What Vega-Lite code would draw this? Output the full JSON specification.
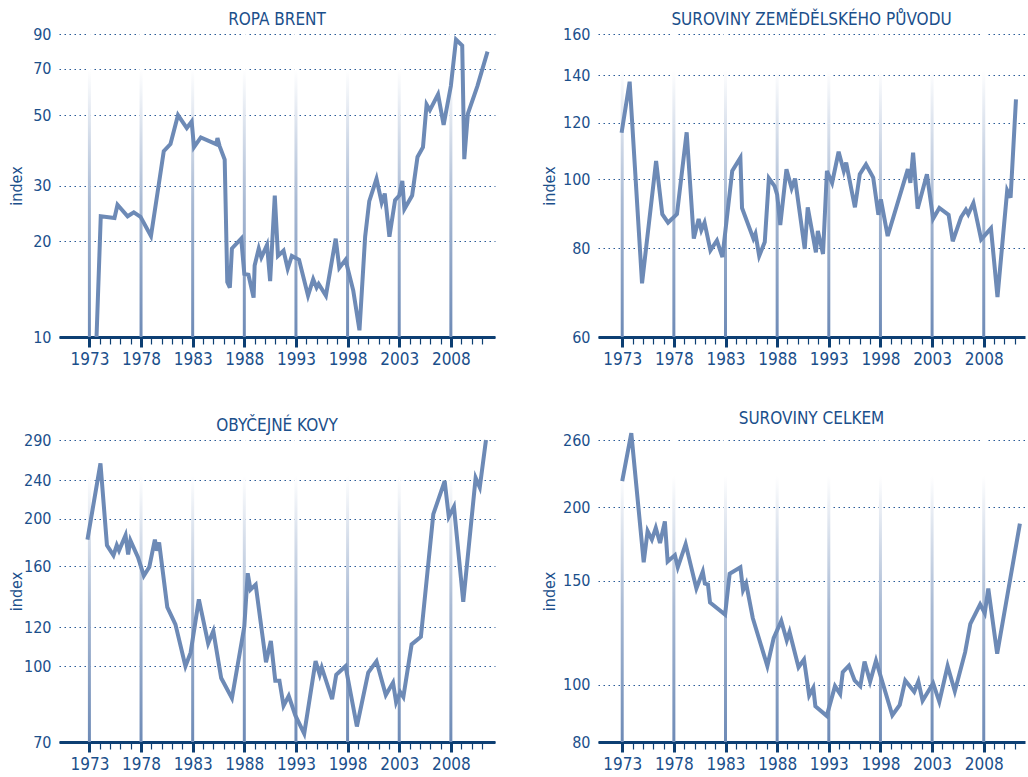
{
  "$schema": "https://vega.github.io/schema/vega-lite/v6.json",
  "autosize": {"type": "pad"},
  "padding": {"left": 8, "top": 11, "right": 0, "bottom": 0},
  "background": "white",
  "bounds": "flush",
  "spacing": {"row": 103, "column": 103},
  "columns": 2,
  "config": {
    "font": "'DejaVu Sans Condensed', Roboto, sans-serif",
    "view": {"stroke": null},
    "title": {"font": "'DejaVu Sans Condensed', Roboto, sans-serif", "fontSize": 17, "fontWeight": "normal", "color": "#1b4f8b", "offset": -3},
    "axis": {
      "labelFont": "'DejaVu Sans Condensed', Roboto, sans-serif",
      "titleFont": "'DejaVu Sans Condensed', Roboto, sans-serif",
      "labelColor": "#1b4f8b",
      "titleColor": "#1b4f8b",
      "labelFontSize": 16,
      "titleFontSize": 16,
      "titleFontWeight": "normal"
    },
    "axisX": {
      "domainColor": "#0d3f73",
      "domainWidth": 3,
      "domainCap": "butt",
      "grid": false,
      "tickColor": "#0d3f73",
      "labelPadding": 4,
      "labelFontSize": 17,
      "labelFlush": false,
      "labelOverlap": false,
      "labelBound": false,
      "format": "d",
      "title": null
    },
    "axisY": {
      "domain": false,
      "ticks": false,
      "grid": true,
      "gridColor": "#2a5b97",
      "gridDash": [1.5, 3.5],
      "gridWidth": 1.2,
      "labelPadding": 8,
      "titleBaseline": "middle",
      "format": "d",
      "labelOverlap": false,
      "labelFlush": false
    }
  },
  "datasets": {
    "bars": [{"year": 1973}, {"year": 1978}, {"year": 1983}, {"year": 1988}, {"year": 1993}, {"year": 1998}, {"year": 2003}, {"year": 2008}],
    "brent": [
      {"year": 1973.69, "value": 10}, {"year": 1974.1, "value": 24}, {"year": 1975.43, "value": 23.7}, {"year": 1975.72, "value": 26.1},
      {"year": 1976.7, "value": 24}, {"year": 1977.3, "value": 24.7}, {"year": 1977.95, "value": 23.9}, {"year": 1978.96, "value": 20.8},
      {"year": 1979.6, "value": 28.5}, {"year": 1980.2, "value": 38.5}, {"year": 1980.85, "value": 40.5}, {"year": 1981.58, "value": 50},
      {"year": 1982.43, "value": 45.5}, {"year": 1982.9, "value": 47.7}, {"year": 1983.13, "value": 39.6}, {"year": 1983.79, "value": 42.5},
      {"year": 1985.27, "value": 40.5}, {"year": 1985.4, "value": 42.3}, {"year": 1985.6, "value": 40}, {"year": 1986.1, "value": 36.2},
      {"year": 1986.35, "value": 14.9}, {"year": 1986.6, "value": 14.3}, {"year": 1986.8, "value": 19}, {"year": 1987.7, "value": 20.4},
      {"year": 1988.0, "value": 15.8}, {"year": 1988.4, "value": 15.7}, {"year": 1988.9, "value": 13.3}, {"year": 1989.0, "value": 16.8},
      {"year": 1989.4, "value": 19}, {"year": 1989.65, "value": 17.8}, {"year": 1990.2, "value": 19.5}, {"year": 1990.5, "value": 15},
      {"year": 1990.95, "value": 27.9}, {"year": 1991.26, "value": 18}, {"year": 1991.8, "value": 18.7}, {"year": 1992.2, "value": 16.4},
      {"year": 1992.6, "value": 18}, {"year": 1993.3, "value": 17.5}, {"year": 1994.17, "value": 13.5}, {"year": 1994.67, "value": 15.2},
      {"year": 1995.0, "value": 14.3}, {"year": 1995.2, "value": 14.7}, {"year": 1995.9, "value": 13.5}, {"year": 1996.85, "value": 20.4},
      {"year": 1997.2, "value": 16.5}, {"year": 1997.8, "value": 17.5}, {"year": 1998.55, "value": 14}, {"year": 1999.15, "value": 10.5},
      {"year": 1999.7, "value": 20.7}, {"year": 2000.1, "value": 26.8}, {"year": 2000.8, "value": 31.5}, {"year": 2001.3, "value": 26.5},
      {"year": 2001.6, "value": 28.3}, {"year": 2002.05, "value": 20.7}, {"year": 2002.6, "value": 27}, {"year": 2003.0, "value": 27.9},
      {"year": 2003.3, "value": 31}, {"year": 2003.5, "value": 25.3}, {"year": 2004.25, "value": 27.9}, {"year": 2004.77, "value": 36.9},
      {"year": 2005.3, "value": 39.6}, {"year": 2005.65, "value": 54}, {"year": 2005.97, "value": 51.8}, {"year": 2006.76, "value": 58.1},
      {"year": 2007.3, "value": 46.6}, {"year": 2008.0, "value": 61.7}, {"year": 2008.5, "value": 86.4}, {"year": 2009.1, "value": 82.7},
      {"year": 2009.3, "value": 36.3}, {"year": 2009.65, "value": 50.5}, {"year": 2010.57, "value": 61.7}, {"year": 2011.55, "value": 79.2}
    ],
    "agri": [
      {"year": 1972.94, "value": 116.2}, {"year": 1973.72, "value": 137.1}, {"year": 1974.92, "value": 71.4}, {"year": 1976.28, "value": 106.1},
      {"year": 1976.88, "value": 89.3}, {"year": 1977.44, "value": 86.9}, {"year": 1978.3, "value": 89.3}, {"year": 1979.24, "value": 116.4},
      {"year": 1979.93, "value": 82.5}, {"year": 1980.4, "value": 87.9}, {"year": 1980.66, "value": 84.8}, {"year": 1980.97, "value": 86.9},
      {"year": 1981.54, "value": 79.4}, {"year": 1982.17, "value": 82}, {"year": 1982.7, "value": 77.7}, {"year": 1983.65, "value": 102.7},
      {"year": 1984.44, "value": 107.2}, {"year": 1984.6, "value": 91.1}, {"year": 1985.7, "value": 82.5}, {"year": 1985.9, "value": 83.8},
      {"year": 1986.26, "value": 78}, {"year": 1986.8, "value": 81.6}, {"year": 1987.2, "value": 100.3}, {"year": 1987.75, "value": 97.8},
      {"year": 1988.0, "value": 95.1}, {"year": 1988.3, "value": 86.2}, {"year": 1988.9, "value": 103.3}, {"year": 1989.4, "value": 97.1},
      {"year": 1989.73, "value": 100.2}, {"year": 1990.67, "value": 79.8}, {"year": 1990.96, "value": 91.3}, {"year": 1991.75, "value": 78.9},
      {"year": 1991.94, "value": 84.6}, {"year": 1992.44, "value": 78.5}, {"year": 1992.82, "value": 102.7}, {"year": 1993.32, "value": 98.8},
      {"year": 1993.95, "value": 109.3}, {"year": 1994.45, "value": 102.7}, {"year": 1994.68, "value": 105.5}, {"year": 1995.53, "value": 91.3},
      {"year": 1996.0, "value": 101.6}, {"year": 1996.6, "value": 104.9}, {"year": 1997.3, "value": 100.5}, {"year": 1997.8, "value": 89.1},
      {"year": 1998.04, "value": 93.7}, {"year": 1998.7, "value": 83.2}, {"year": 2000.65, "value": 103.3}, {"year": 2000.9, "value": 98.8},
      {"year": 2001.16, "value": 109}, {"year": 2001.6, "value": 90.9}, {"year": 2002.5, "value": 101.6}, {"year": 2003.1, "value": 88},
      {"year": 2003.7, "value": 91.1}, {"year": 2004.6, "value": 89.1}, {"year": 2005.0, "value": 81.8}, {"year": 2005.8, "value": 88.4},
      {"year": 2006.27, "value": 90.6}, {"year": 2006.5, "value": 89.3}, {"year": 2007.0, "value": 92.6}, {"year": 2007.75, "value": 82.3},
      {"year": 2008.7, "value": 85.3}, {"year": 2009.33, "value": 68.3}, {"year": 2010.27, "value": 96.4}, {"year": 2010.6, "value": 94.2},
      {"year": 2011.12, "value": 129.5}
    ],
    "metals": [
      {"year": 1972.81, "value": 181.4}, {"year": 1974.07, "value": 259.8}, {"year": 1974.7, "value": 176.7}, {"year": 1975.33, "value": 168.5},
      {"year": 1975.65, "value": 176.7}, {"year": 1975.87, "value": 172.3}, {"year": 1976.5, "value": 185.2}, {"year": 1976.75, "value": 169.2},
      {"year": 1976.97, "value": 180.8}, {"year": 1977.7, "value": 167.1}, {"year": 1978.27, "value": 153.1}, {"year": 1978.8, "value": 159.5},
      {"year": 1979.34, "value": 181.4}, {"year": 1979.53, "value": 172.3}, {"year": 1979.75, "value": 179.1}, {"year": 1980.54, "value": 132.1},
      {"year": 1981.33, "value": 121.8}, {"year": 1982.3, "value": 100}, {"year": 1982.8, "value": 106.6}, {"year": 1983.6, "value": 137},
      {"year": 1984.5, "value": 111.3}, {"year": 1985.0, "value": 118}, {"year": 1985.76, "value": 94.6}, {"year": 1986.8, "value": 86},
      {"year": 1988.0, "value": 120.5}, {"year": 1988.33, "value": 154.9}, {"year": 1988.6, "value": 143.4}, {"year": 1989.1, "value": 146.8},
      {"year": 1990.1, "value": 101.9}, {"year": 1990.57, "value": 112.6}, {"year": 1991.0, "value": 93.4}, {"year": 1991.4, "value": 93.4},
      {"year": 1991.8, "value": 83}, {"year": 1992.3, "value": 87}, {"year": 1992.94, "value": 79.3}, {"year": 1993.8, "value": 72.8},
      {"year": 1994.9, "value": 102.4}, {"year": 1995.3, "value": 96.1}, {"year": 1995.5, "value": 99.4}, {"year": 1996.5, "value": 85.6},
      {"year": 1996.9, "value": 96.1}, {"year": 1997.8, "value": 100}, {"year": 1998.9, "value": 75.3}, {"year": 2000.0, "value": 97.1},
      {"year": 2000.8, "value": 102.4}, {"year": 2001.7, "value": 87.3}, {"year": 2002.4, "value": 92.6}, {"year": 2002.7, "value": 84.4},
      {"year": 2003.1, "value": 88.5}, {"year": 2003.4, "value": 86.5}, {"year": 2004.2, "value": 110.8}, {"year": 2005.1, "value": 114.9},
      {"year": 2006.3, "value": 204.5}, {"year": 2007.4, "value": 239}, {"year": 2007.8, "value": 202}, {"year": 2008.3, "value": 211.8},
      {"year": 2009.2, "value": 135.4}, {"year": 2010.4, "value": 242.6}, {"year": 2010.8, "value": 232}, {"year": 2011.4, "value": 290}
    ],
    "total": [
      {"year": 1973.0, "value": 221.4}, {"year": 1973.88, "value": 267}, {"year": 1975.08, "value": 161.3}, {"year": 1975.46, "value": 182.2},
      {"year": 1975.87, "value": 176.3}, {"year": 1976.25, "value": 184.5}, {"year": 1976.66, "value": 173.9}, {"year": 1977.13, "value": 189.3},
      {"year": 1977.4, "value": 161.8}, {"year": 1978.1, "value": 165.9}, {"year": 1978.38, "value": 158.2}, {"year": 1979.14, "value": 173.2},
      {"year": 1980.18, "value": 145.6}, {"year": 1980.8, "value": 155.6}, {"year": 1981.0, "value": 148.5}, {"year": 1981.3, "value": 147.9},
      {"year": 1981.5, "value": 137.9}, {"year": 1982.96, "value": 131.5}, {"year": 1983.4, "value": 154.3}, {"year": 1984.44, "value": 158.2},
      {"year": 1984.7, "value": 144.7}, {"year": 1985.0, "value": 148.5}, {"year": 1985.64, "value": 129.8}, {"year": 1987.05, "value": 107.6},
      {"year": 1987.66, "value": 120}, {"year": 1988.4, "value": 128.3}, {"year": 1988.93, "value": 118.9}, {"year": 1989.2, "value": 122.9},
      {"year": 1990.07, "value": 107.1}, {"year": 1990.6, "value": 110.4}, {"year": 1991.1, "value": 95.9}, {"year": 1991.5, "value": 98.8},
      {"year": 1991.7, "value": 92}, {"year": 1992.8, "value": 88.6}, {"year": 1993.6, "value": 99.5}, {"year": 1994.1, "value": 96.5},
      {"year": 1994.35, "value": 105.1}, {"year": 1994.95, "value": 107.8}, {"year": 1995.5, "value": 101.7}, {"year": 1996.05, "value": 99.5},
      {"year": 1996.46, "value": 109.5}, {"year": 1997.0, "value": 101.3}, {"year": 1997.57, "value": 109.9}, {"year": 1999.15, "value": 88.8},
      {"year": 1999.87, "value": 92.5}, {"year": 2000.4, "value": 101.7}, {"year": 2001.27, "value": 97.3}, {"year": 2001.67, "value": 101.3},
      {"year": 2002.08, "value": 94}, {"year": 2003.1, "value": 100.6}, {"year": 2003.7, "value": 93.6}, {"year": 2004.5, "value": 107.6},
      {"year": 2005.2, "value": 97.5}, {"year": 2006.2, "value": 113.6}, {"year": 2006.7, "value": 126.9}, {"year": 2007.65, "value": 136.9},
      {"year": 2008.1, "value": 132.3}, {"year": 2008.44, "value": 145.6}, {"year": 2009.3, "value": 112.9}, {"year": 2011.5, "value": 187.6}
    ]
  },
  "concat": [
    {
      "width": 436, "height": 303,
      "title": {"text": "ROPA BRENT"},
      "resolve": {"axis": {"x": "independent"}},
      "layer": [
        {
          "data": {"name": "bars"},
          "mark": {"type": "bar", "width": 3, "fill": {"gradient": "linear", "x1": 0, "y1": 0, "x2": 0, "y2": 1, "stops": [{"offset": 0, "color": "#ffffff"}, {"offset": 0.12, "color": "#ffffff"}, {"offset": 0.55, "color": "#a9bad4"}, {"offset": 1, "color": "#6d8ab6"}]}},
          "encoding": {
            "x": {"field": "year", "type": "quantitative", "scale": {"domain": [1970.54, 2011.79], "nice": false, "zero": false}, "axis": {"orient": "bottom", "values": [1973, 1978, 1983, 1988, 1993, 1998, 2003, 2008], "domain": false, "tickSize": 10, "tickWidth": 3}},
            "y": {"datum": 90, "type": "quantitative", "scale": {"type": "log", "domain": [10, 90], "nice": false}, "axis": {"values": [10, 20, 30, 50, 70, 90], "title": "index", "titleX": -43}},
            "y2": {"datum": 10}
          }
        },
        {
          "data": {"name": "brent"},
          "mark": {"type": "line", "color": "#6d8ab6", "strokeWidth": 4, "strokeJoin": "miter", "clip": false},
          "encoding": {
            "x": {"field": "year", "type": "quantitative", "axis": {"orient": "bottom", "values": [1973,1974,1975,1976,1977,1978,1979,1980,1981,1982,1983,1984,1985,1986,1987,1988,1989,1990,1991,1992,1993,1994,1995,1996,1997,1998,1999,2000,2001,2002,2003,2004,2005,2006,2007,2008,2009,2010,2011], "labels": false, "tickSize": 7, "tickWidth": 1.2, "domain": true}},
            "y": {"field": "value", "type": "quantitative"}
          }
        }
      ]
    },
    {
      "width": 427, "height": 303,
      "title": {"text": "SUROVINY ZEMĚDĚLSKÉHO PŮVODU"},
      "resolve": {"axis": {"x": "independent"}},
      "layer": [
        {
          "data": {"name": "bars"},
          "mark": {"type": "bar", "width": 3, "fill": {"gradient": "linear", "x1": 0, "y1": 0, "x2": 0, "y2": 1, "stops": [{"offset": 0, "color": "#ffffff"}, {"offset": 0.12, "color": "#ffffff"}, {"offset": 0.55, "color": "#a9bad4"}, {"offset": 1, "color": "#6d8ab6"}]}},
          "encoding": {
            "x": {"field": "year", "type": "quantitative", "scale": {"domain": [1971.14, 2011.51], "nice": false, "zero": false}, "axis": {"orient": "bottom", "values": [1973, 1978, 1983, 1988, 1993, 1998, 2003, 2008], "domain": false, "tickSize": 10, "tickWidth": 3}},
            "y": {"datum": 160, "type": "quantitative", "scale": {"type": "log", "domain": [60, 160], "nice": false}, "axis": {"values": [60, 80, 100, 120, 140, 160], "title": "index", "titleX": -49}},
            "y2": {"datum": 60}
          }
        },
        {
          "data": {"name": "agri"},
          "mark": {"type": "line", "color": "#6d8ab6", "strokeWidth": 4, "strokeJoin": "miter", "clip": false},
          "encoding": {
            "x": {"field": "year", "type": "quantitative", "axis": {"orient": "bottom", "values": [1973,1974,1975,1976,1977,1978,1979,1980,1981,1982,1983,1984,1985,1986,1987,1988,1989,1990,1991,1992,1993,1994,1995,1996,1997,1998,1999,2000,2001,2002,2003,2004,2005,2006,2007,2008,2009,2010,2011], "labels": false, "tickSize": 7, "tickWidth": 1.2, "domain": true}},
            "y": {"field": "value", "type": "quantitative"}
          }
        }
      ]
    },
    {
      "width": 436, "height": 302,
      "title": {"text": "OBYČEJNÉ KOVY"},
      "resolve": {"axis": {"x": "independent"}},
      "layer": [
        {
          "data": {"name": "bars"},
          "mark": {"type": "bar", "width": 3, "fill": {"gradient": "linear", "x1": 0, "y1": 0, "x2": 0, "y2": 1, "stops": [{"offset": 0, "color": "#ffffff"}, {"offset": 0.12, "color": "#ffffff"}, {"offset": 0.55, "color": "#a9bad4"}, {"offset": 1, "color": "#6d8ab6"}]}},
          "encoding": {
            "x": {"field": "year", "type": "quantitative", "scale": {"domain": [1970.54, 2011.79], "nice": false, "zero": false}, "axis": {"orient": "bottom", "values": [1973, 1978, 1983, 1988, 1993, 1998, 2003, 2008], "domain": false, "tickSize": 10, "tickWidth": 3}},
            "y": {"datum": 290, "type": "quantitative", "scale": {"type": "log", "domain": [70, 290], "nice": false}, "axis": {"values": [70, 100, 120, 160, 200, 240, 290], "title": "index", "titleX": -43}},
            "y2": {"datum": 70}
          }
        },
        {
          "data": {"name": "metals"},
          "mark": {"type": "line", "color": "#6d8ab6", "strokeWidth": 4, "strokeJoin": "miter", "clip": false},
          "encoding": {
            "x": {"field": "year", "type": "quantitative", "axis": {"orient": "bottom", "values": [1973,1974,1975,1976,1977,1978,1979,1980,1981,1982,1983,1984,1985,1986,1987,1988,1989,1990,1991,1992,1993,1994,1995,1996,1997,1998,1999,2000,2001,2002,2003,2004,2005,2006,2007,2008,2009,2010,2011], "labels": false, "tickSize": 7, "tickWidth": 1.2, "domain": true}},
            "y": {"field": "value", "type": "quantitative"}
          }
        }
      ]
    },
    {
      "width": 427, "height": 302,
      "title": {"text": "SUROVINY CELKEM"},
      "resolve": {"axis": {"x": "independent"}},
      "layer": [
        {
          "data": {"name": "bars"},
          "mark": {"type": "bar", "width": 3, "fill": {"gradient": "linear", "x1": 0, "y1": 0, "x2": 0, "y2": 1, "stops": [{"offset": 0, "color": "#ffffff"}, {"offset": 0.12, "color": "#ffffff"}, {"offset": 0.55, "color": "#a9bad4"}, {"offset": 1, "color": "#6d8ab6"}]}},
          "encoding": {
            "x": {"field": "year", "type": "quantitative", "scale": {"domain": [1971.14, 2011.51], "nice": false, "zero": false}, "axis": {"orient": "bottom", "values": [1973, 1978, 1983, 1988, 1993, 1998, 2003, 2008], "domain": false, "tickSize": 10, "tickWidth": 3}},
            "y": {"datum": 260, "type": "quantitative", "scale": {"type": "log", "domain": [80, 260], "nice": false}, "axis": {"values": [80, 100, 150, 200, 260], "title": "index", "titleX": -49}},
            "y2": {"datum": 80}
          }
        },
        {
          "data": {"name": "total"},
          "mark": {"type": "line", "color": "#6d8ab6", "strokeWidth": 4, "strokeJoin": "miter", "clip": false},
          "encoding": {
            "x": {"field": "year", "type": "quantitative", "axis": {"orient": "bottom", "values": [1973,1974,1975,1976,1977,1978,1979,1980,1981,1982,1983,1984,1985,1986,1987,1988,1989,1990,1991,1992,1993,1994,1995,1996,1997,1998,1999,2000,2001,2002,2003,2004,2005,2006,2007,2008,2009,2010,2011], "labels": false, "tickSize": 7, "tickWidth": 1.2, "domain": true}},
            "y": {"field": "value", "type": "quantitative"}
          }
        }
      ]
    }
  ]
}
